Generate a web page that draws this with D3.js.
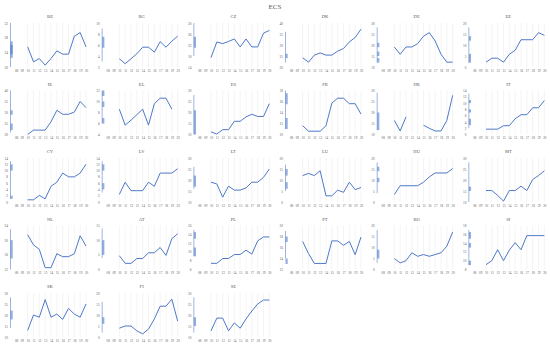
<!DOCTYPE html>
<html>
<head>
<meta charset="utf-8">
<script src="https://cdn.jsdelivr.net/npm/d3@7"></script>
<style>
  html, body { margin: 0; padding: 0; background: #fff; }
  text { font-family: "Liberation Serif", "DejaVu Serif", serif; fill: #595959; }
</style>
</head>
<body>
<svg id="viz" width="550" height="348"></svg>
<script>
/* ---------- data ---------- */
const years = ["08", "09", "10", "11", "12", "13", "14", "15", "16", "17", "18", "19", "20"];
const countries = ["BE", "BG", "CZ", "DK", "DE", "EE", "IE", "EL", "ES", "FR", "HR", "IT",
  "CY", "LV", "LT", "LU", "HU", "MT", "NL", "AT", "PL", "PT", "RO", "SI", "SK", "FI", "SE"];

// y axis [min, max, step] per country
const yAxes = [
  [20, 32, 4], [2, 10, 2], [14, 30, 4], [20, 40, 5], [10, 30, 5], [0, 20, 5],
  [20, 40, 5], [4, 12, 2], [10, 30, 5], [10, 18, 2], [10, 30, 5], [0, 14, 2],
  [0, 14, 2], [0, 14, 2], [10, 30, 5], [0, 20, 5], [0, 20, 5], [10, 30, 5],
  [12, 24, 4], [0, 15, 5], [6, 16, 2], [12, 20, 2], [0, 20, 5], [8, 18, 2],
  [10, 30, 5], [0, 20, 5], [10, 30, 5]
];

// values 2008..2020 (no data for 08, 09)
const series = [
  [null, null, 25.5, 21.4, 22.3, 20.5, 22.3, 24.4, 23.5, 23.5, 28.4, 29.4, 25.5],
  [null, null, 3.5, 2.6, 3.5, 4.4, 5.6, 5.6, 4.7, 6.6, 5.6, 6.7, 7.6],
  [null, null, 17.4, 23.1, 22.5, 23.3, 24.2, 21.3, 24.2, 21.3, 21.3, 26.3, 27.3],
  [null, null, 24.2, 22.2, 25.4, 26.4, 25.4, 25.4, 27.2, 28.4, 31.4, 33.4, 37.2],
  [null, null, 19.1, 15.8, 19.1, 19.1, 20.6, 24, 25.6, 21.8, 15.8, 12.2, 12.2],
  [null, null, 2.2, 4, 4, 2.2, 5.8, 7.6, 12.4, 12.4, 12.4, 15.6, 14.4],
  [null, null, 20, 22, 22, 22, 25.8, 31, 29.2, 29.2, 30.2, 35, 32.2],
  [null, null, 8.6, 5.7, 6.6, 7.6, 8.6, 5.7, 9.6, 10.6, 10.6, 8.6, null],
  [null, null, 11.2, 10.2, 12.2, 12.2, 16, 16, 18, 19.2, 18.2, 18.2, 24],
  [null, null, 11.6, 10.6, 10.6, 10.6, 11.6, 15.7, 16.6, 16.6, 15.6, 15.6, 13.7],
  [null, null, 16.4, 11.6, 18, null, null, 14.2, 12.8, 11.6, 11.6, 16.4, 27.8],
  [null, null, 1.7, 1.7, 1.7, 2.8, 2.8, 5.0, 6.3, 6.3, 8.5, 8.5, 10.8],
  [null, null, 0.7, 0.7, 2.1, 1.0, 5.0, 6.3, 9.2, 8.0, 8.0, 9.2, 12.0],
  [null, null, 2.4, 6.3, 3.6, 3.6, 3.6, 6.3, 5.0, 9.2, 9.2, 9.2, 10.6],
  [null, null, 19, 18.2, 12.2, 17.2, 15.4, 15.4, 16.4, 19, 19, 21.2, 25],
  [null, null, 12, 13, 12, 14.2, 2.8, 2.8, 5.4, 4.4, 9, 5.6, 6.6],
  [null, null, 3.4, 7.4, 7.4, 7.4, 7.4, 9, 11.4, 13.2, 13.2, 13.2, 15.2],
  [null, null, 15.2, 15.2, 13, 10.4, 15.2, 15.2, 17.2, 15.2, 20.2, 22, 24.2],
  [null, null, 21.5, 18.7, 17.5, 12.5, 12.5, 16.3, 15.5, 15.5, 16.3, 21.2, 18.4],
  [null, null, 4.7, 2.1, 2.1, 3.75, 3.75, 5.7, 5.7, 7.5, 4.8, 10.5, 12.2],
  [null, null, 7.4, 7.4, 8.5, 8.5, 9.4, 9.4, 10.4, 9.5, 12.5, 13.4, 13.4],
  [null, null, 17.1, 14.9, 13.1, 13.1, 13.1, 17.2, 17.2, 16.4, 17.1, 14.7, 17.9],
  [null, null, 5, 3, 4, 7.6, 6, 6.8, 6, 6.8, 7.6, 10.6, 17],
  [null, null, 9.1, 10, 12.5, 10, 12.4, 14.1, 12.5, 15.7, 15.7, 15.7, 15.7],
  [null, null, 13, 20, 19, 27, 19, 20.4, 18, 23, 20.4, 19, 25],
  [null, null, 4, 5, 5, 2.8, 1.4, 3.6, 8.2, 14, 14, 17.2, 7.2],
  [null, null, 12.8, 18.6, 18.6, 12.8, 16.4, 14, 18.2, 21.8, 25, 26.8, 26.8]
];

// small marks drawn on the value axis: [lo, hi, [box ranges]]
const axisMarks = [
  [20, 32, [[22.5, 27], [23.5, 26]]], [3, 9, [[5.5, 7.5]]], [18, 30, [[21, 25]]],
  [22, 36, [[24, 26]]], [12, 28, [[19, 21], [15, 17], [12, 14]]], [2, 18, [[12, 14], [2, 6]]],
  [21, 40, [[29, 31], [22, 25]]], [6, 12, [[11, 12], [9, 10], [6, 7]]], [10, 28, [[10, 21]]],
  [11, 18, [[15.5, 17.5], [11, 13]]], [12, 29, [[12, 20]]], [2, 13, [[10, 11], [7, 8], [3, 5]]],
  [1, 13, [[10, 12], [1, 2]]], [3, 13, [[10, 12], [4, 6]]], [16, 26, [[17, 22]]],
  [5, 17, [[12, 15], [6, 9]]], [4, 18, [[14, 16], [9, 11]]], [10, 28, [[15, 17]]],
  [12, 23, [[15, 20]]], [4, 14, [[5, 10]]], [9, 15, [[13, 14.5], [9, 11]]],
  [14, 19, [[17, 18], [13, 14]]], [3, 18, [[5, 9]]], [9, 17, [[15, 16.5], [13, 14], [9, 10]]],
  [14, 28, [[18, 22]]], [2, 16, [[6, 9]]], [12, 28, [[15, 19]]]
];

/* ---------- layout ---------- */
const W = 550, H = 348;
const cols = 6;
const colW = W / cols;
const rowH = 67.5;
const lineColor = "#4f78c8";

const svg = d3.select("#viz");

svg.append("text")
  .attr("x", W / 2).attr("y", 9)
  .attr("text-anchor", "middle")
  .style("font-size", "7px")
  .text("ECS");

countries.forEach((code, i) => {
  const c = i % cols, r = Math.floor(i / cols);
  const x0 = c * colW;
  const top = 23 + r * rowH, bottom = 67 + r * rowH;
  const [ymin, ymax, step] = yAxes[i];

  const x = d3.scalePoint().domain(years).range([x0 + 16, x0 + 86]);
  const y = d3.scaleLinear().domain([ymin, ymax]).range([bottom, top]);

  const g = svg.append("g").attr("class", "panel");

  // panel title
  g.append("text")
    .attr("x", x0 + 50).attr("y", top - 5)
    .attr("text-anchor", "middle")
    .style("font-size", "4.6px")
    .text(code);

  // vertical gridlines where data exist
  g.selectAll("line.grid")
    .data(years.filter((yr, j) => series[i].some((v, k) => k >= 2) && j >= 2))
    .join("line")
    .attr("class", "grid")
    .attr("x1", d => x(d)).attr("x2", d => x(d))
    .attr("y1", top).attr("y2", bottom)
    .attr("stroke", "#e8e8e8")
    .attr("stroke-width", 0.5);

  // y axis labels
  const ticks = d3.range(ymin, ymax + step / 2, step);
  const yAxis = d3.axisLeft(y).tickValues(ticks).tickSize(0).tickPadding(0);
  const ya = g.append("g")
    .attr("transform", `translate(${x0 + 8},0)`)
    .call(yAxis);
  ya.select(".domain").remove();
  ya.selectAll("text")
    .style("font-size", "3.4px")
    .style("font-family", "Liberation Serif, serif")
    .attr("fill", "#7f7f7f");

  // x axis labels
  const xAxis = d3.axisBottom(x).tickSize(0).tickPadding(0);
  const xa = g.append("g")
    .attr("transform", `translate(0,${bottom + 2.5})`)
    .call(xAxis);
  xa.select(".domain").remove();
  xa.selectAll("text")
    .style("font-size", "3.2px")
    .style("font-family", "Liberation Serif, serif")
    .attr("fill", "#7f7f7f");

  // marks on the value axis
  const [lo, hi, boxes] = axisMarks[i];
  const ax = x0 + 10.5;
  g.append("line")
    .attr("x1", ax).attr("x2", ax)
    .attr("y1", y(lo)).attr("y2", y(hi))
    .attr("stroke", lineColor).attr("stroke-opacity", 0.7)
    .attr("stroke-width", 0.8);
  g.selectAll("rect.box")
    .data(boxes)
    .join("rect")
    .attr("class", "box")
    .attr("x", ax).attr("width", 2.2)
    .attr("y", d => y(d[1]))
    .attr("height", d => y(d[0]) - y(d[1]))
    .attr("fill", lineColor).attr("fill-opacity", 0.6);

  // series line
  const line = d3.line()
    .defined(d => d != null)
    .x((d, j) => x(years[j]))
    .y(d => y(d));

  g.append("path")
    .datum(series[i])
    .attr("d", line)
    .attr("fill", "none")
    .attr("stroke", lineColor)
    .attr("stroke-width", 1)
    .attr("stroke-linejoin", "round");
});
</script>
</body>
</html>
